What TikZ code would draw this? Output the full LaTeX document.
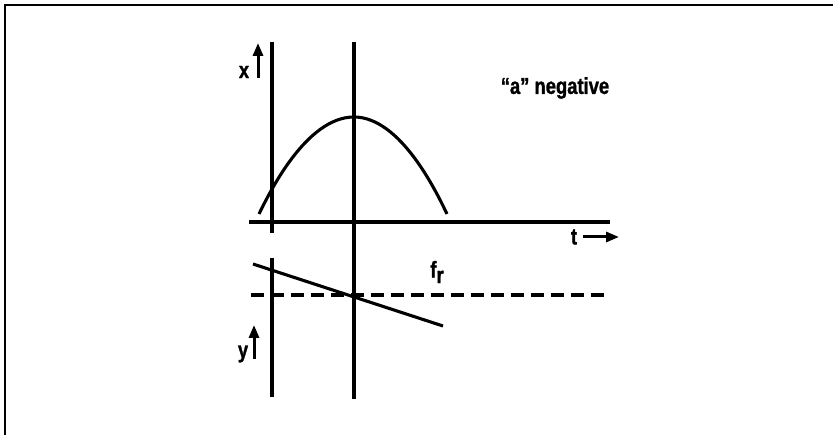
\documentclass[tikz,border=0pt]{standalone}
\usepackage{fontspec}
\newfontfamily\lblfont{Liberation Sans}[UprightFont=* Bold, FakeStretch=0.8, FakeBold=1.2]
\usetikzlibrary{arrows.meta}
\tikzset{
  axis/.style={line width=3.1pt},
  lbl/.style={font=\lblfont\fontsize{23}{26}\selectfont, inner sep=0pt},
  smallarrow/.style={line width=3pt, -{Triangle[length=13pt,width=10pt]}},
  frameline/.style={line width=2pt}
}
\begin{document}
\begin{tikzpicture}[x=1pt,y=-1pt]
\useasboundingbox (0,0) rectangle (833,435);
% frame (top and left edges)
\coordinate (fbl) at (4.5,436);
\coordinate (ftl) at (4.5,5.5);
\coordinate (ftr) at (834,5.5);
\draw[frameline] (fbl) -- (ftl) -- (ftr);
% axes
\coordinate (l1a) at (272,42);
\coordinate (l1b) at (272,233);
\coordinate (l2a) at (272,258);
\coordinate (l2b) at (272,397);
\coordinate (c1a) at (354,42);
\coordinate (c1b) at (354,399);
\coordinate (ta) at (249,222);
\coordinate (tb) at (610,222);
\draw[axis] (l1a) -- (l1b);
\draw[axis] (l2a) -- (l2b);
\draw[axis] (c1a) -- (c1b);
\draw[axis] (ta) -- (tb);
% parabola
\coordinate (pl) at (259,214);
\coordinate (pk) at (354,117);
\coordinate (pr) at (447,214);
\draw[axis] (pl) parabola bend (pk) (pr);
% dashed line and slanted line
\coordinate (da) at (251,295);
\coordinate (db) at (607,295);
\draw[axis, dash pattern=on 13pt off 7pt] (da) -- (db);
\coordinate (sa) at (253,264);
\coordinate (sb) at (443,326);
\draw[axis] (sa) -- (sb);
% labels and arrows
\node[lbl] (xl) at (244,72) {x};
\coordinate (xa0) at (258,78);
\coordinate (xa1) at (258,43);
\draw[smallarrow] (xa0) -- (xa1);
\node[lbl] (yl) at (243,354) {y};
\coordinate (ya0) at (254,359);
\coordinate (ya1) at (254,325);
\draw[smallarrow] (ya0) -- (ya1);
\node[lbl] (tl) at (574,237) {t};
\coordinate (ta0) at (583,237);
\coordinate (ta1) at (619,237);
\draw[smallarrow] (ta0) -- (ta1);
\node[lbl] (fr) at (437,272) {f\raisebox{-0.45ex}{r}};
\node[lbl] (an) at (555,88) {“a” negative};
\end{tikzpicture}
\end{document}
